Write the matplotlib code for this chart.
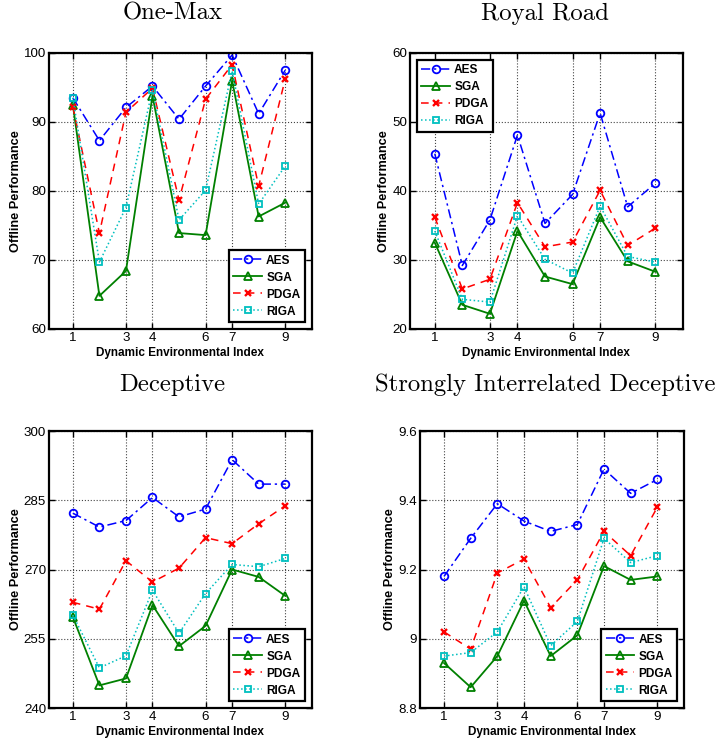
import matplotlib
matplotlib.use("Agg")
import matplotlib.pyplot as plt

x_index = [1, 2, 3, 4, 5, 6, 7, 8, 9]
x_ticks = [1, 3, 4, 6, 7, 9]
series_names = ["AES", "SGA", "PDGA", "RIGA"]

onemax_aes = [93.5, 87.3, 92.1, 95.2, 90.4, 95.2, 99.7, 91.2, 97.5]
onemax_sga = [92.5, 64.8, 68.4, 93.8, 73.9, 73.6, 96.0, 76.3, 78.3]
onemax_pdga = [92.2, 73.9, 91.4, 94.9, 78.7, 93.3, 98.3, 80.7, 96.2]
onemax_riga = [93.5, 69.7, 77.6, 94.7, 75.8, 80.1, 97.4, 78.1, 83.6]

royal_aes = [45.4, 29.2, 35.8, 48.1, 35.3, 39.5, 51.3, 37.7, 41.1]
royal_sga = [32.5, 23.5, 22.2, 34.2, 27.6, 26.5, 36.2, 29.8, 28.3]
royal_pdga = [36.2, 25.8, 27.2, 38.3, 31.9, 32.6, 40.1, 32.1, 34.6]
royal_riga = [34.2, 24.3, 23.9, 36.4, 30.1, 28.1, 37.8, 30.5, 29.7]

decep_aes = [282.2, 279.2, 280.6, 285.6, 281.4, 283.1, 293.8, 288.5, 288.5]
decep_sga = [259.7, 244.9, 246.4, 262.3, 253.4, 257.8, 270.0, 268.4, 264.3]
decep_pdga = [262.9, 261.4, 271.9, 267.3, 270.3, 276.9, 275.6, 279.9, 283.8]
decep_riga = [260.1, 248.7, 251.3, 265.5, 256.2, 264.8, 271.1, 270.6, 272.4]

sid_aes = [9.18, 9.29, 9.39, 9.34, 9.31, 9.33, 9.49, 9.42, 9.46]
sid_sga = [8.93, 8.86, 8.95, 9.11, 8.95, 9.01, 9.21, 9.17, 9.18]
sid_pdga = [9.02, 8.97, 9.19, 9.23, 9.09, 9.17, 9.31, 9.24, 9.38]
sid_riga = [8.95, 8.96, 9.02, 9.15, 8.98, 9.05, 9.29, 9.22, 9.24]

titles = ["One-Max", "Royal Road", "Deceptive", "Strongly Interrelated Deceptive"]
yticks_list = [[60, 70, 80, 90, 100], [20, 30, 40, 50, 60],
               [240, 255, 270, 285, 300], [8.8, 9.0, 9.2, 9.4, 9.6]]
ytick_labels_list = [["60", "70", "80", "90", "100"], ["20", "30", "40", "50", "60"],
                     ["240", "255", "270", "285", "300"], ["8.8", "9", "9.2", "9.4", "9.6"]]
legend_locs = ["lower right", "upper left", "lower right", "lower right"]

panels = [
    (onemax_aes, onemax_sga, onemax_pdga, onemax_riga),
    (royal_aes, royal_sga, royal_pdga, royal_riga),
    (decep_aes, decep_sga, decep_pdga, decep_riga),
    (sid_aes, sid_sga, sid_pdga, sid_riga),
]

styles = [
    dict(color="#0000ff", linestyle=(0, (6, 2.5, 1.5, 2.5)), marker="o", markerfacecolor="none",
         markersize=5.5, linewidth=1.1, markeredgewidth=1.3),
    dict(color="#008000", linestyle="-", marker="^", markerfacecolor="none",
         markersize=6, linewidth=1.3, markeredgewidth=1.3),
    dict(color="#ff0000", linestyle=(0, (5, 4)), marker="x",
         markersize=4.5, linewidth=1.1, markeredgewidth=1.7),
    dict(color="#00bfbf", linestyle=":", marker="s", markerfacecolor="none",
         markersize=5, linewidth=1.1, markeredgewidth=1.3),
]

positions = [
    [0.0684, 0.5596, 0.367, 0.3695],
    [0.5726, 0.5596, 0.381, 0.3695],
    [0.0684, 0.0522, 0.367, 0.3708],
    [0.5866, 0.0522, 0.3687, 0.3708],
]
title_x = [0.4696, 0.4945, 0.4696, 0.4735]
title_pad = [24, 24, 29, 29]

fig = plt.figure(figsize=(7.16, 7.47), dpi=100)
fig.patch.set_facecolor("white")

for i in range(4):
    ax = fig.add_axes(positions[i])
    for name, vals, st in zip(series_names, panels[i], styles):
        ax.plot(x_index, vals, label=name, **st)
    ax.set_xlim(0.1, 10)
    yt = yticks_list[i]
    ax.set_ylim(yt[0], yt[-1])
    ax.set_xticks(x_ticks)
    ax.set_xticklabels([str(t) for t in x_ticks], fontsize=9.6, family="Liberation Sans")
    ax.set_yticks(yt)
    ax.set_yticklabels(ytick_labels_list[i], fontsize=9.6, family="Liberation Sans")
    ax.grid(True, linestyle=":", color="#444444", linewidth=0.8)
    for sp in ax.spines.values():
        sp.set_linewidth(1.6)
    ax.tick_params(direction="in", length=4, width=1, top=True, right=True, pad=2)
    ax.set_xlabel("Dynamic Environmental Index", fontsize=8.5, fontweight="bold",
                  family="Liberation Sans", labelpad=2)
    ax.set_ylabel("Offline Performance", fontsize=9.2, fontweight="bold",
                  family="Liberation Sans", labelpad=1.5)
    ax.set_title(titles[i], fontsize=17.8, family="cmr10", pad=title_pad[i], x=title_x[i])
    leg = ax.legend(loc=legend_locs[i], fancybox=False, framealpha=1,
                    edgecolor="black", prop=dict(family="Liberation Sans", weight="bold", size=8.6),
                    handlelength=2.4, labelspacing=0.42, borderpad=0.35, handletextpad=0.35,
                    borderaxespad=0.6)
    leg.get_frame().set_linewidth(1.6)

fig.savefig("out.png", dpi=100)
